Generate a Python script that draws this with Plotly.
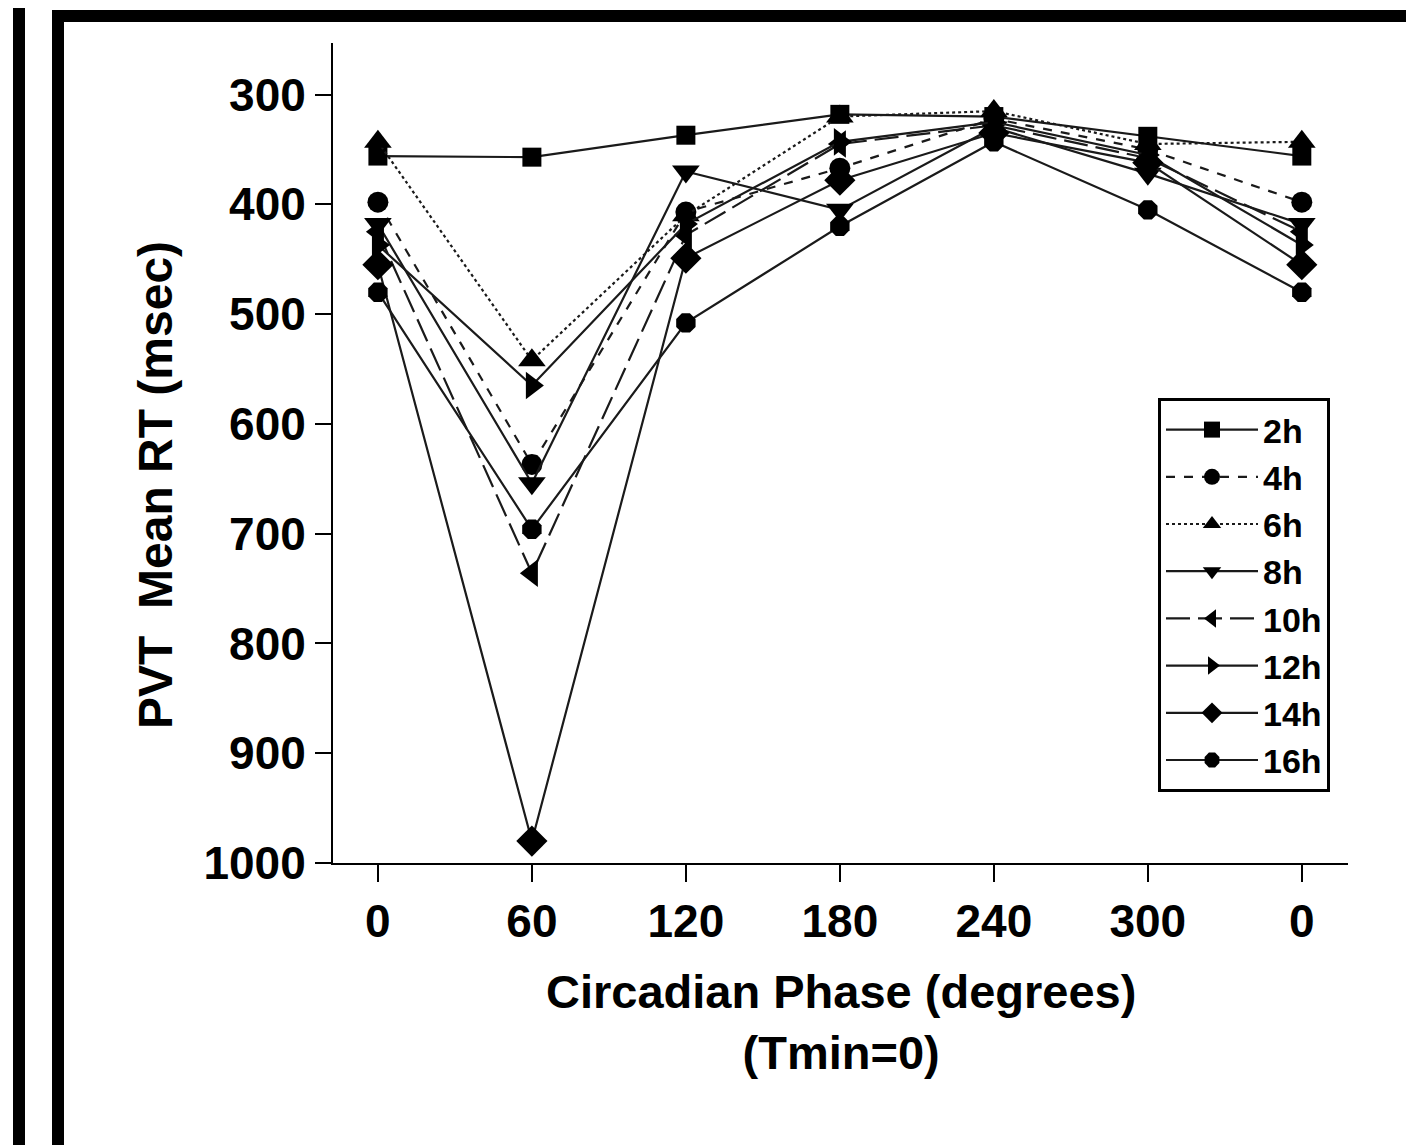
import plotly.graph_objects as go

# Data
phase = [0, 60, 120, 180, 240, 300, 360]
phase_labels = ["0", "60", "120", "180", "240", "300", "0"]
series_names = ["2h", "4h", "6h", "8h", "10h", "12h", "14h", "16h"]
rt_2h = [356, 357, 337, 318, 320, 338, 356]
rt_4h = [398, 637, 407, 367, 322, 350, 398]
rt_6h = [343, 542, 410, 320, 315, 345, 343]
rt_8h = [418, 654, 370, 405, 330, 372, 418]
rt_10h = [425, 736, 428, 345, 328, 358, 425]
rt_12h = [437, 565, 418, 343, 325, 355, 437]
rt_14h = [455, 980, 449, 378, 335, 362, 455]
rt_16h = [480, 696, 508, 420, 343, 405, 480]
yticks = [300, 400, 500, 600, 700, 800, 900, 1000]

values = [rt_2h, rt_4h, rt_6h, rt_8h, rt_10h, rt_12h, rt_14h, rt_16h]
symbols = ["square", "circle", "triangle-up", "triangle-down", "triangle-left",
           "triangle-right", "diamond", "octagon"]
msizes = [19, 21, 24, 24, 24, 24, 24, 21]
dashes = ["solid", "dash", "dot", "solid", "24px,8px", "solid", "solid", "solid"]

FONT = "Liberation Sans, Arial, sans-serif"

fig = go.Figure()
for name, vals, sym, ms, dash in zip(series_names, values, symbols, msizes, dashes):
    fig.add_trace(go.Scatter(
        x=phase, y=vals, name=name, mode="lines+markers",
        line=dict(color="#1a1a1a", width=2.2, dash=dash),
        marker=dict(symbol=sym, size=ms, color="black"),
    ))

OFF = 8  # browser body margin
W, H = 1414 - OFF, 1145 - OFF
L, R, T, B = 333 - OFF, 1414 - 1348, 43 - OFF, 1145 - 863
pw, ph = W - L - R, H - T - B

def px(x):
    return (x - OFF - L) / pw

def py(y):
    return (H - B - (y - OFF)) / ph

fig.update_layout(
    width=W, height=H,
    margin=dict(l=L, r=R, t=T, b=B),
    paper_bgcolor="white", plot_bgcolor="white",
    font=dict(family=FONT, color="black", weight="bold"),
    showlegend=True,
    legend=dict(
        x=px(1158), y=py(398), xanchor="left", yanchor="top",
        bordercolor="black", borderwidth=3, bgcolor="white",
        font=dict(family=FONT, size=34, color="black", weight="bold"),
        tracegroupgap=0, itemwidth=92,
    ),
    xaxis=dict(
        range=[-17.5, 378], tickvals=phase, ticktext=phase_labels,
        showgrid=False, zeroline=False, showline=True, linecolor="black",
        linewidth=2, ticks="outside", ticklen=17, tickwidth=2, tickcolor="black",
        tickfont=dict(family=FONT, size=46, color="black", weight="bold"),
    ),
    yaxis=dict(
        range=[1000, 253], tickvals=yticks,
        showgrid=False, zeroline=False, showline=True, linecolor="black",
        linewidth=2, ticks="outside", ticklen=16, tickwidth=2, tickcolor="black",
        tickfont=dict(family=FONT, size=46, color="black", weight="bold"),
    ),
)

fig.add_annotation(
    text="Circadian Phase (degrees)<br>(Tmin=0)", xref="paper", yref="paper",
    x=0.5, y=py(963), xanchor="center", yanchor="top", showarrow=False,
    font=dict(family=FONT, size=47, color="black", weight="bold"),
)
fig.add_annotation(
    text="PVT  Mean RT (msec)", xref="paper", yref="paper",
    x=px(155), y=py(485), xanchor="center", yanchor="middle", textangle=-90,
    showarrow=False,
    font=dict(family=FONT, size=48, color="black", weight="bold"),
)

# outer frame lines
fig.add_shape(type="line", xref="paper", yref="paper",
              x0=px(19), x1=px(19), y0=py(OFF), y1=py(1145),
              line=dict(color="black", width=12))
fig.add_shape(type="line", xref="paper", yref="paper",
              x0=px(58), x1=px(58), y0=py(16), y1=py(1145),
              line=dict(color="black", width=12))
fig.add_shape(type="line", xref="paper", yref="paper",
              x0=px(52), x1=px(1414), y0=py(16), y1=py(16),
              line=dict(color="black", width=12))

fig.write_html("out.html")
